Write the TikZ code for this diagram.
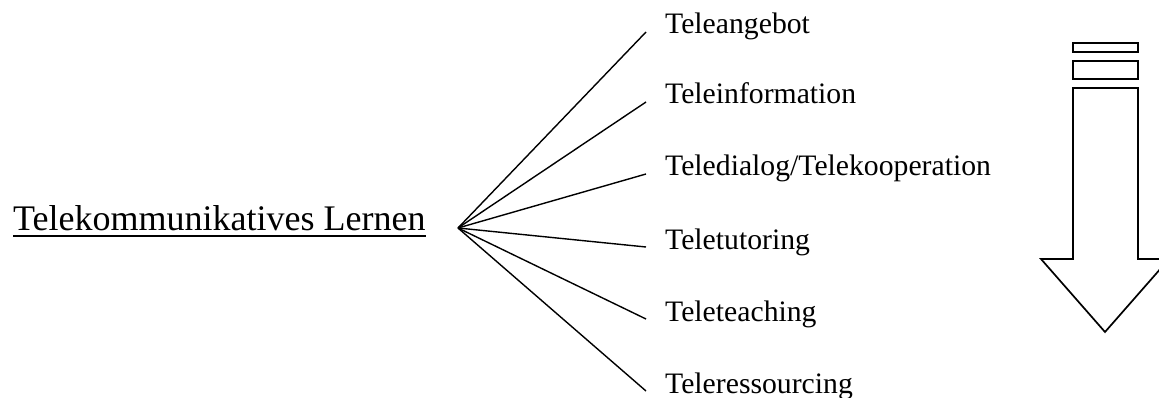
\documentclass[tikz,border=0pt]{standalone}
\usepackage{fontspec}
\setmainfont{Liberation Serif}
\begin{document}
\begin{tikzpicture}[x=1pt,y=-1pt,
  item/.style={anchor=base west,inner sep=0pt,font=\fontsize{29.7}{32}\selectfont},
  mainlbl/.style={anchor=base west,inner sep=0pt,font=\fontsize{36}{40}\selectfont},
  fan/.style={line width=1.4pt},
  arrowshape/.style={line width=1.7pt,line join=miter}]
\useasboundingbox (0,0) rectangle (1159,398);
\clip (0,0) rectangle (1159,398);
\node[mainlbl] (main) at (13,230) {Telekommunikatives Lernen};
\draw[line width=2pt] ([yshift=-6pt]main.base west) -- ([yshift=-6pt]main.base east);
\coordinate (o) at (458,228);
\node[item] (t1) at (665,34) {Teleangebot};
\node[item] (t2) at (665,104) {Teleinformation};
\node[item] (t3) at (665,176) {Teledialog/Telekooperation};
\node[item] (t4) at (665,249) {Teletutoring};
\node[item] (t5) at (665,321) {Teleteaching};
\node[item] (t6) at (665,393) {Teleressourcing};
\foreach \t in {t1,t2,t3,t4,t5,t6}{
  \draw[fan] (o) -- ([xshift=-19pt,yshift=2pt]\t.base west);
}
\draw[arrowshape] (1073,43) rectangle (1138,52);
\draw[arrowshape] (1073,61) rectangle (1138,79);
\draw[arrowshape] (1073,88) -- (1073,259) -- (1041,259) -- (1105,332) -- (1169,259) -- (1138,259) -- (1138,88) -- cycle;
\end{tikzpicture}
\end{document}
